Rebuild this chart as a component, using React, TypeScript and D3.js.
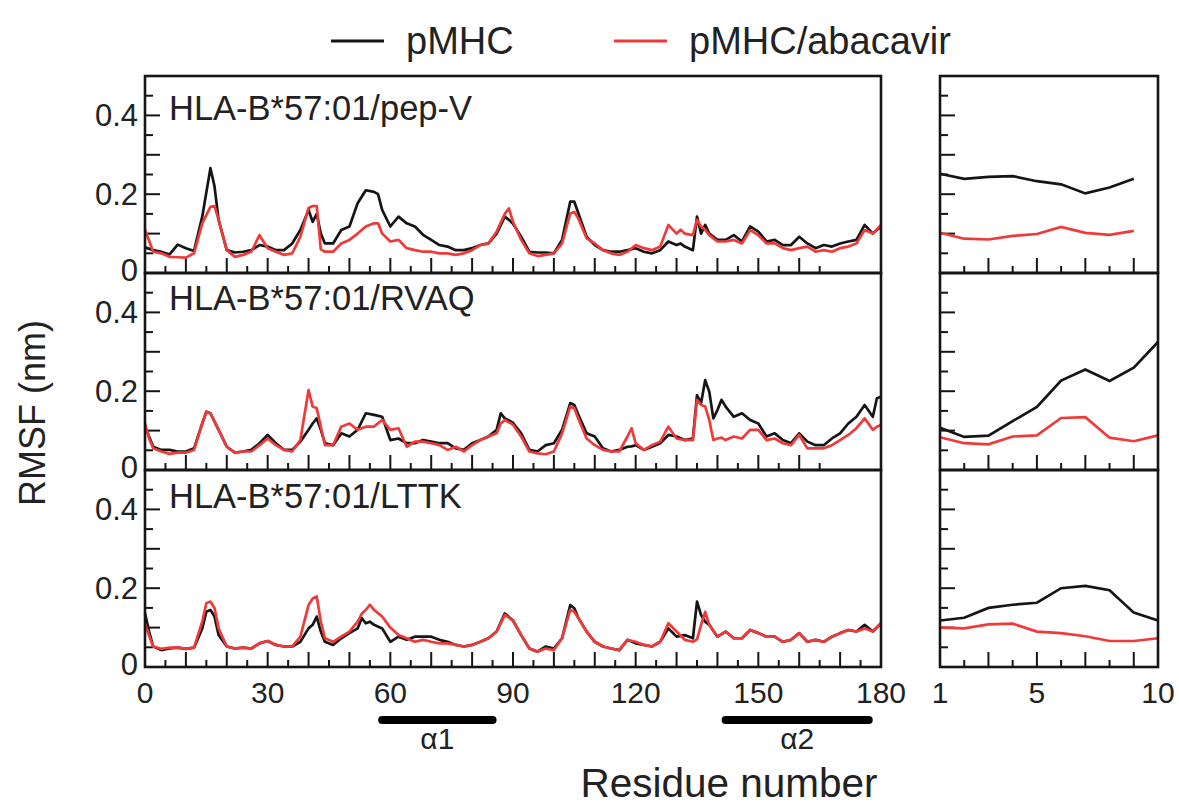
import React, {useEffect, useRef} from 'react';
import * as d3 from 'd3';

// panel titles, top to bottom
const panelNames = ['HLA-B*57:01/pep-V', 'HLA-B*57:01/RVAQ', 'HLA-B*57:01/LTTK'];
const seriesNames = ['pMHC', 'pMHC/abacavir'];

// ---- HLA-B*57:01/pep-V, RMSF (nm) per residue ----
const pepVResidues = [0,2,4,6,8,10,12,14,16,17,18,20,22,24,26,28,30,32,34,36,38,40,41,42,43,44,46,48,50,52,54,56,57,58,60,62,64,66,68,70,72,74,76,78,80,82,84,86,88,89,90,92,94,96,98,100,102,104,105,106,108,110,112,114,116,118,120,122,124,126,128,130,131,132,134,135,136,137,138,140,142,144,146,148,150,152,154,156,158,160,162,164,166,168,170,172,174,176,178,180];
const pepVApo = [.065,.058,.054,.047,.072,.063,.056,.143,.266,.22,.135,.058,.052,.054,.058,.071,.067,.058,.058,.075,.109,.16,.13,.15,.1,.075,.075,.109,.118,.177,.21,.206,.2,.16,.118,.143,.126,.118,.097,.084,.071,.067,.058,.058,.063,.071,.075,.1,.143,.135,.125,.092,.054,.052,.052,.05,.084,.181,.181,.151,.092,.071,.058,.054,.054,.058,.063,.054,.05,.058,.08,.071,.075,.067,.058,.143,.1,.122,.1,.084,.084,.096,.08,.118,.105,.08,.084,.071,.071,.092,.075,.063,.071,.067,.075,.08,.084,.122,.1,.118];
const pepVAbc = [.11,.054,.05,.041,.04,.039,.05,.126,.168,.17,.135,.058,.041,.046,.054,.096,.063,.054,.046,.05,.092,.165,.17,.17,.06,.054,.054,.075,.084,.1,.118,.126,.126,.1,.08,.084,.063,.058,.054,.054,.05,.05,.046,.05,.058,.071,.075,.105,.15,.164,.13,.084,.05,.043,.046,.05,.075,.151,.155,.138,.088,.075,.058,.05,.046,.054,.071,.063,.058,.067,.122,.1,.11,.1,.096,.135,.118,.11,.096,.08,.08,.084,.075,.109,.096,.075,.075,.063,.058,.063,.067,.054,.058,.054,.063,.067,.075,.109,.1,.122];

// ---- HLA-B*57:01/RVAQ ----
const rvaqResidues = [0,1,2,4,6,8,10,12,14,15,16,18,20,22,24,26,28,30,32,34,36,38,40,41,42,43,44,46,48,50,52,54,56,58,60,62,64,66,68,70,72,74,76,78,80,82,84,86,87,88,90,92,94,96,98,100,102,104,105,106,108,110,112,114,116,118,119,120,122,124,126,128,130,132,134,135,136,137,138,139,140,141,142,144,146,148,150,152,154,156,158,160,162,164,166,168,170,172,174,176,178,179,180];
const rvaqApo = [.11,.085,.059,.051,.051,.047,.047,.055,.118,.148,.144,.102,.059,.044,.047,.051,.068,.089,.068,.051,.051,.072,.102,.118,.131,.102,.068,.063,.093,.085,.102,.144,.14,.135,.076,.08,.068,.068,.076,.072,.068,.068,.055,.051,.068,.076,.085,.102,.144,.131,.12,.093,.051,.047,.063,.068,.102,.17,.165,.14,.093,.085,.055,.047,.051,.059,.06,.063,.051,.059,.068,.089,.085,.076,.08,.19,.17,.228,.199,.131,.152,.178,.161,.135,.144,.127,.118,.085,.093,.076,.068,.093,.072,.063,.063,.08,.093,.118,.135,.165,.135,.182,.186];
const rvaqAbc = [.118,.08,.055,.047,.041,.044,.044,.051,.118,.148,.144,.102,.059,.044,.047,.047,.063,.08,.063,.051,.047,.076,.203,.161,.157,.11,.063,.063,.11,.118,.102,.11,.11,.127,.102,.106,.059,.072,.072,.068,.063,.051,.059,.047,.063,.076,.085,.093,.118,.127,.115,.085,.047,.042,.04,.047,.093,.161,.157,.13,.08,.063,.051,.047,.047,.085,.106,.068,.051,.063,.072,.11,.08,.076,.076,.178,.165,.161,.127,.076,.08,.082,.076,.085,.08,.102,.102,.076,.08,.068,.063,.089,.055,.055,.055,.063,.076,.089,.106,.131,.102,.11,.114];

// ---- HLA-B*57:01/LTTK ----
const lttkResidues = [0,1,2,4,6,8,10,12,14,15,16,17,18,20,22,24,26,28,30,32,34,36,38,40,41,42,43,44,46,48,50,52,53,54,55,56,58,60,62,64,66,68,70,72,74,76,78,80,82,84,86,88,90,92,94,96,98,100,102,104,105,106,108,110,112,114,116,118,120,122,124,126,128,130,132,134,135,136,137,138,140,142,144,146,148,150,152,154,156,158,160,162,164,166,168,170,172,174,176,178,180];
const lttkApo = [.136,.09,.052,.043,.047,.049,.046,.049,.098,.14,.145,.128,.081,.052,.047,.049,.047,.06,.066,.056,.052,.052,.064,.098,.107,.128,.09,.064,.056,.073,.086,.098,.124,.111,.115,.107,.098,.064,.077,.069,.077,.077,.077,.069,.064,.056,.052,.056,.064,.073,.09,.136,.118,.081,.047,.039,.052,.047,.073,.157,.149,.124,.09,.064,.052,.047,.043,.069,.06,.056,.052,.064,.098,.077,.081,.073,.166,.132,.115,.107,.077,.09,.073,.073,.094,.086,.077,.077,.064,.069,.086,.064,.069,.064,.077,.086,.094,.09,.107,.09,.111];
const lttkAbc = [.11,.08,.052,.046,.049,.049,.046,.049,.115,.162,.166,.15,.098,.052,.047,.049,.047,.06,.066,.056,.052,.052,.077,.157,.174,.179,.115,.073,.064,.077,.09,.115,.135,.145,.158,.145,.128,.1,.081,.073,.064,.069,.064,.06,.06,.056,.052,.056,.064,.073,.09,.132,.118,.081,.047,.039,.047,.043,.073,.145,.14,.124,.09,.064,.052,.047,.043,.069,.064,.056,.052,.064,.111,.09,.069,.064,.07,.107,.14,.107,.077,.09,.073,.073,.094,.086,.077,.077,.064,.069,.086,.064,.069,.064,.077,.086,.094,.09,.098,.09,.111];

// ---- peptide positions (right column) ----
const pepPositions = [1,2,3,4,5,6,7,8,9,10];
const pepVPepApo = [.252,.239,.244,.246,.233,.225,.202,.217,.239];
const pepVPepAbc = [.102,.087,.085,.094,.099,.117,.102,.097,.107];
const rvaqPepApo = [.107,.084,.087,.124,.16,.227,.255,.226,.26,.325];
const rvaqPepAbc = [.083,.068,.065,.085,.088,.132,.134,.082,.073,.088];
const lttkPepApo = [.118,.125,.15,.158,.163,.2,.206,.195,.138,.118];
const lttkPepAbc = [.1,.098,.108,.11,.09,.086,.078,.066,.066,.073];

// helix spans under the residue axis
const helixNames = ['\u03b11', '\u03b12'];
const helixStart = [58, 142];
const helixEnd = [85, 177];

const resTickLabels = [0, 30, 60, 90, 120, 150, 180];
const pepTickLabels = [1, 5, 10];
const rmsfTickLabels = [0, 0.2, 0.4];

const BLACK = '#151515';
const RED = '#f03a3a';
const FONT = '"Liberation Sans", Arial, Helvetica, sans-serif';

export default function App(){
    const ref = useRef(null);

    useEffect(()=>{
        const svg = d3.select(ref.current);
        svg.selectAll('*').remove();

        const panels = [
            {res: pepVResidues, apo: pepVApo, abc: pepVAbc, pApo: pepVPepApo, pAbc: pepVPepAbc, lastTick: 165, labelDy: 44},
            {res: rvaqResidues, apo: rvaqApo, abc: rvaqAbc, pApo: rvaqPepApo, pAbc: rvaqPepAbc, lastTick: 165, labelDy: 37},
            {res: lttkResidues, apo: lttkApo, abc: lttkAbc, pApo: lttkPepApo, pAbc: lttkPepAbc, lastTick: 175, labelDy: 38},
        ];

        const top0 = 76, panelH = 197;
        const xRes = d3.scaleLinear().domain([0,180]).range([145,881]);
        const xPep = d3.scaleLinear().domain([1,10]).range([940,1158]);

        panels.forEach((p,i)=>{
            const top = top0 + i*panelH;
            const y = d3.scaleLinear().domain([0,0.5]).range([top+panelH, top]);
            const g = svg.append('g');

            // y ticks, left and right column
            const yTicks = d3.range(1,10).map(k => k*0.05);
            [xRes(0), xPep(1)].forEach(x0=>{
                g.selectAll(null).data(yTicks).enter().append('line')
                    .attr('x1', x0).attr('x2', (d,k) => x0 + (k%2 === 1 ? 15 : 8))
                    .attr('y1', d => y(d)).attr('y2', d => y(d))
                    .attr('stroke', BLACK).attr('stroke-width', 2);
            });

            // x ticks
            const resTicks = d3.range(5, p.lastTick+1, 5);
            g.selectAll(null).data(resTicks).enter().append('line')
                .attr('x1', d => xRes(d)).attr('x2', d => xRes(d))
                .attr('y1', y(0)).attr('y2', d => y(0) - (d%10 === 0 ? 15 : 7))
                .attr('stroke', BLACK).attr('stroke-width', 2);
            g.selectAll(null).data(d3.range(2,10)).enter().append('line')
                .attr('x1', d => xPep(d)).attr('x2', d => xPep(d))
                .attr('y1', y(0)).attr('y2', d => y(0) - (d%2 === 1 ? 15 : 7))
                .attr('stroke', BLACK).attr('stroke-width', 2);

            // curves
            const resLine = d3.line().x(d => xRes(d[0])).y(d => y(d[1]));
            const pepLine = d3.line().x(d => xPep(d[0])).y(d => y(d[1]));
            g.append('path').attr('d', resLine(p.res.map((r,k) => [r, p.apo[k]])))
                .attr('fill','none').attr('stroke', BLACK).attr('stroke-width', 2.7).attr('stroke-linejoin','round');
            g.append('path').attr('d', resLine(p.res.map((r,k) => [r, p.abc[k]])))
                .attr('fill','none').attr('stroke', RED).attr('stroke-width', 2.7).attr('stroke-linejoin','round');
            g.append('path').attr('d', pepLine(p.pApo.map((v,k) => [pepPositions[k], v])))
                .attr('fill','none').attr('stroke', BLACK).attr('stroke-width', 2.7);
            g.append('path').attr('d', pepLine(p.pAbc.map((v,k) => [pepPositions[k], v])))
                .attr('fill','none').attr('stroke', RED).attr('stroke-width', 2.7);

            // frames
            g.append('rect').attr('x', xRes(0)).attr('y', top)
                .attr('width', xRes(180)-xRes(0)).attr('height', panelH)
                .attr('fill','none').attr('stroke', BLACK).attr('stroke-width', 2.6);
            g.append('rect').attr('x', xPep(1)).attr('y', top)
                .attr('width', xPep(10)-xPep(1)).attr('height', panelH)
                .attr('fill','none').attr('stroke', BLACK).attr('stroke-width', 2.6);

            // y labels
            g.selectAll(null).data(rmsfTickLabels).enter().append('text')
                .attr('x', 138).attr('y', d => y(d) - (d === 0 ? 3 : 0))
                .attr('text-anchor','end').attr('dominant-baseline','central')
                .attr('font-size', 31).attr('fill', '#222')
                .text(d => d === 0 ? '0' : d3.format('.1f')(d));

            g.append('text').attr('x', 169).attr('y', top + p.labelDy)
                .attr('font-size', 34.5).attr('fill', '#222')
                .text(panelNames[i]);
        });

        const bottom = top0 + 3*panelH;
        // x labels
        svg.selectAll(null).data(resTickLabels).enter().append('text')
            .attr('x', d => xRes(d)).attr('y', bottom + 36)
            .attr('text-anchor','middle').attr('font-size', 30).attr('fill','#222')
            .text(d => d);
        svg.selectAll(null).data(pepTickLabels).enter().append('text')
            .attr('x', d => xPep(d)).attr('y', bottom + 36)
            .attr('text-anchor','middle').attr('font-size', 30).attr('fill','#222')
            .text(d => d);

        // helix bars
        svg.selectAll(null).data(helixNames).enter().append('line')
            .attr('x1', (d,k) => xRes(helixStart[k])).attr('x2', (d,k) => xRes(helixEnd[k]))
            .attr('y1', 720).attr('y2', 720)
            .attr('stroke', '#000').attr('stroke-width', 8).attr('stroke-linecap','round');
        svg.selectAll(null).data(helixNames).enter().append('text')
            .attr('x', (d,k) => (xRes(helixStart[k]) + xRes(helixEnd[k]))/2)
            .attr('y', 749).attr('text-anchor','middle')
            .attr('font-size', 30).attr('fill','#222')
            .text(d => d);

        svg.append('text').attr('x', 729).attr('y', 797).attr('text-anchor','middle')
            .attr('font-size', 40.5).attr('fill','#222').text('Residue number');

        svg.append('text').attr('transform','translate(45,413) rotate(-90)')
            .attr('text-anchor','middle').attr('font-size', 36).attr('fill','#222')
            .text('RMSF (nm)');

        // legend
        const legX = [331, 614];
        const legColor = [BLACK, RED];
        const leg = svg.selectAll(null).data(seriesNames).enter().append('g')
            .attr('transform', (d,k) => 'translate(' + legX[k] + ',0)');
        leg.append('line').attr('x1', 0).attr('x2', 53).attr('y1', 41).attr('y2', 41)
            .attr('stroke', (d,k) => legColor[k]).attr('stroke-width', 3);
        leg.append('text').attr('x', 75).attr('y', 54)
            .attr('font-size', 38).attr('fill','#222').text(d => d);
    },[]);

    return (
        <svg ref={ref} width={1179} height={805}
            style={{position:'absolute', left:0, top:0, background:'white', fontFamily: FONT}} />
    );
}
